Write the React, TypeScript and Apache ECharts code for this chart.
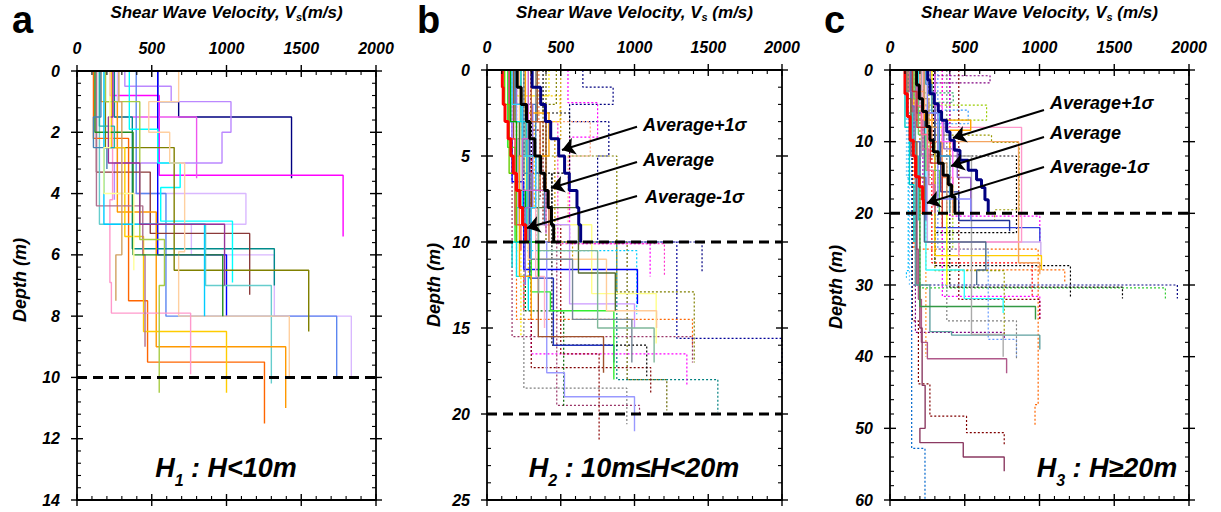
import React, { useEffect, useRef } from "react";
import * as echarts from "echarts";

// ---------------- data ----------------
const velocityMax = 2000;
const velocityStep = 500;
const depthMax = [14, 25, 60];
const depthStep = [2, 5, 10];
const minorSplit = 5;
const boundaryA = [10];
const boundaryB = [10, 20];
const boundaryC = [20];

// Panel a : H < 10 m  (layer velocities m/s, layer bottom depths m)
const panelAVs = [
  [540, 680, 1435], [220, 550, 1780], [250, 800], [320, 630, 1030, 970, 250],
  [270, 1130, 765, 1320, 1835], [396, 595, 1737], [540, 1000], [250, 370, 1320],
  [130, 490, 1155], [350, 540, 690, 560, 1040], [190, 650, 1550], [150, 860, 1300],
  [110, 345, 472, 1254], [160, 270, 530, 1396], [230, 320, 445, 1000],
  [680, 480, 620, 720, 680, 1420], [238, 220, 230, 760], [130, 440, 455],
  [120, 375, 975], [190, 420, 585, 550], [180, 853], [150, 250, 180],
  [240, 210, 420, 987], [160, 110, 200], [220, 180, 380], [280, 300, 260],
];
const panelADepths = [
  [1.0, 1.5, 3.5], [0.8, 3.4, 5.4], [1.5, 3.5], [0.5, 1.0, 2.0, 3.0, 4.2],
  [4.0, 5.0, 6.0, 8.0, 10.0], [4.0, 8.0, 10.0], [6.0, 8.0], [1.5, 5.8, 7.0],
  [3.3, 5.3, 7.3], [1.9, 3.0, 3.8, 4.9, 6.9], [2.5, 6.5, 8.5], [5.0, 7.0, 10.2],
  [2.2, 7.5, 9.5, 11.5], [1.0, 4.6, 9.0, 11.0], [2.5, 5.4, 8.5, 10.5],
  [1.0, 2.0, 3.0, 5.9, 8.0, 10.0], [4.2, 6.9, 7.9, 9.9], [4.4, 6.0, 9.0],
  [2.0, 6.0, 8.0], [1.0, 5.5, 7.0, 10.5], [5.0, 8.0], [1.8, 2.5, 4.0],
  [1.5, 3.0, 5.0, 7.0], [1.5, 2.5, 3.2], [2.5, 4.0, 6.5], [1.0, 6.0, 7.5],
];

// Panel b : 10 m <= H < 20 m
const panelBSolidVs = [
  [150, 170, 250, 1020], [230, 290, 450, 860], [200, 260, 405, 525, 1000],
  [180, 280, 348, 790], [140, 190, 300, 430, 860], [230, 260, 710, 1147],
  [170, 210, 560, 1000], [220, 280, 810, 1150], [190, 220, 620, 870],
  [250, 300, 580, 982], [260, 350, 750, 1133], [160, 240, 200, 280],
  [280, 330, 390], [330, 280, 350], [160, 200, 260, 350], [340, 400, 300],
  [190, 330, 390], [260, 420, 220, 300], [230, 270, 170], [200, 310, 260],
  [150, 190, 230], [120, 150, 200], [300, 360, 420], [170, 240, 330, 300],
  [280, 240, 400],
];
const panelBSolidDepths = [
  [3.0, 6.5, 11.6, 13.6], [4.0, 12.1, 16.0, 17.0], [5.0, 10.0, 17.6, 19.0, 21.0],
  [4.0, 8.0, 15.5, 17.6], [4.5, 10.0, 12.9, 14.0, 18.0], [5.0, 9.0, 13.0, 15.9],
  [4.0, 9.0, 13.6, 15.0], [5.0, 11.0, 14.0, 15.0], [3.0, 8.0, 11.8, 14.0],
  [6.0, 11.0, 14.5, 17.0], [5.0, 10.5, 15.0, 17.0], [3.0, 8.0, 12.0, 14.0],
  [4.0, 12.0, 15.0], [3.0, 10.0, 13.0], [3.0, 7.0, 10.0, 12.0], [3.0, 7.0, 11.0],
  [2.0, 6.0, 9.0], [2.5, 5.0, 12.0, 14.5], [3.0, 10.0, 11.5], [2.0, 8.0, 12.5],
  [4.0, 9.0, 10.5], [2.0, 6.0, 10.0], [3.0, 7.0, 10.0], [2.0, 5.0, 8.0, 11.0],
  [4.0, 7.0, 9.5],
];
const panelBDottedVs = [
  [650, 855, 560, 826, 750, 1458], [549, 750, 560, 1106], [300, 480, 1203],
  [200, 495, 320, 280], [250, 200, 1393], [470, 380, 880, 1405], [400, 950, 1219],
  [330, 880, 1565], [170, 1393], [300, 1355], [250, 1015], [300, 1110],
  [300, 440, 1083], [250, 948], [260, 473, 1034], [200, 300, 250],
  [350, 380, 500, 760], [260, 520], [420, 200, 230], [350, 700, 550],
  [250, 1287, 2000], [500, 460, 580], [380, 560, 440], [230, 360, 300],
];
const panelBDottedDepths = [
  [1.0, 2.0, 3.0, 5.0, 10.0, 11.8], [1.9, 3.9, 10.1, 12.0], [3.0, 10.1, 12.0],
  [1.5, 3.0, 8.0, 12.0], [7.0, 14.5, 16.0], [2.0, 5.0, 12.9, 17.0], [10.0, 18.0, 19.8],
  [10.0, 18.0, 19.9], [15.5, 17.0], [16.5, 18.4], [10.5, 14.2], [17.3, 18.8],
  [6.0, 16.0, 17.8], [18.5, 20.6], [10.0, 19.5, 20.0], [5.0, 12.0, 14.0],
  [3.0, 9.0, 16.5, 21.5], [14.0, 19.6], [1.5, 10.5, 15.5], [3.0, 5.0, 9.0],
  [10.0, 15.6, 17.75], [4.0, 10.0, 11.0], [2.5, 6.0, 9.0], [3.5, 7.5, 13.0],
];
const bAvgPlusVs = [306, 364, 396, 432, 486, 526, 558, 610, 622, 635];
const bAvgVs = [205, 232, 268, 290, 324, 364, 391, 414, 437, 452];
const bAvgMinusVs = [104, 110, 122, 143, 162, 178, 200, 223, 241, 263];
const bAvgDepths = [1, 2, 3, 4, 5, 6, 7, 8, 9, 10];

// Panel c : H >= 20 m
const panelCSolidVs = [
  [150, 175, 190, 210, 250, 780], [140, 180, 200, 215, 235, 200, 490, 764],
  [170, 267, 412, 1002], [140, 200, 973], [190, 240, 497, 757], [210, 545, 757],
  [180, 300, 1002], [200, 250, 1009], [160, 300, 1013], [250, 860, 1002],
  [220, 880, 460], [230, 641, 580], [280, 350, 380], [230, 540, 400],
  [300, 340, 460, 800], [130, 170, 220, 260, 300], [160, 190, 240, 330],
  [200, 230, 280, 350, 420], [140, 160, 200, 240], [230, 260, 320, 380],
  [110, 150, 190], [270, 300, 360, 450, 540], [180, 210, 250, 290],
  [120, 140, 180, 230], [240, 280, 330, 400], [150, 180, 270, 350],
  [300, 350, 420], [100, 130, 160], [250, 320, 540],
];
const panelCSolidDepths = [
  [10, 25, 32, 38, 40.3, 42.3], [12, 30, 36, 44, 50, 52, 54, 56],
  [30, 36.5, 37.0, 39.0], [10, 33, 34.8], [8, 27.9, 31.9, 33.9], [12, 36.9, 40],
  [6, 22, 23.9], [5, 24, 26], [7, 25.9, 27.9], [10, 26.9, 28.5],
  [8, 24, 26], [24, 27.9, 30], [8, 20, 30], [7, 8.4, 20],
  [10, 17, 21, 22.5], [3, 7, 11, 16, 20], [4, 9, 14, 20],
  [3, 6, 10, 15, 20], [5, 10, 15, 21], [4, 8, 13, 20],
  [6, 12, 21], [3, 7, 11, 15, 20], [5, 9, 14, 19],
  [4, 10, 15, 20], [2, 6, 12, 20], [3, 8, 13, 22],
  [5, 10, 16], [8, 16, 24], [6, 18, 21],
];
const panelCDottedVs = [
  [150, 1922], [200, 1842], [300, 1207], [400, 1555], [350, 1169], [280, 951],
  [350, 1002], [400, 1002], [150, 190, 267, 512, 764], [160, 991, 970], [145, 234],
  [250, 669, 230, 170, 764], [200, 646, 260, 420], [180, 523, 300],
  [260, 679, 864, 700], [290, 846, 300], [320, 657, 846], [300, 764],
  [190, 423, 300], [380, 846], [122, 110], [460, 1002], [200, 240], [110, 130],
  [160, 220],
];
const panelCDottedDepths = [
  [30.0, 31.9], [30.4, 31.9], [27.3, 31.9], [30.3, 31.9], [27.9, 29.7], [26.9, 31.6],
  [31.6, 34.8], [20.4, 24.0], [35, 43.8, 48.3, 50.6, 52.5], [25, 46.7, 49.5], [52.8, 60],
  [0.8, 1.8, 2.8, 36.6, 37.5], [4.9, 7.0, 15, 25], [5.6, 7.5, 22],
  [9.1, 10.1, 19.5, 21], [12.0, 22.7, 27.3], [25, 37.6, 40], [28, 36.9],
  [3.2, 4.5, 20], [35, 40.3], [28, 29], [32, 34.8], [20, 40], [15, 30],
  [8, 18],
];
const cAvgPlusVs = [252, 267, 296, 323, 345, 379, 401, 430, 468, 523, 579, 612, 635, 657];
const cAvgPlusDepths = [1.4, 3.3, 4.7, 5.8, 7.0, 8.6, 9.8, 11.2, 12.6, 14.0, 15.3, 16.4, 18.1, 20.0];
const cAvgVs = [178, 196, 218, 245, 267, 290, 323, 356, 390, 412, 434];
const cAvgDepths = [2.1, 4.0, 5.8, 7.9, 9.8, 11.4, 13.0, 14.7, 16.0, 17.7, 20.0];
const cAvgMinusVs = [100, 116, 134, 156, 171, 196, 218, 223];
const cAvgMinusDepths = [3.3, 6.5, 9.8, 12.0, 14.9, 16.3, 18.1, 20.0];

// annotation arrows (velocity, depth)
const bArrowFrom = [[1017, 3.3], [1017, 5.35], [1017, 7.33]];
const bArrowTo = [[508, 4.65], [434, 6.86], [271, 9.19]];
const cArrowFrom = [[1030, 5.58], [1030, 9.35], [1030, 13.53]];
const cArrowTo = [[421, 9.49], [408, 13.4], [247, 18.56]];
const annotationLabels = ["Average+1\u03c3", "Average", "Average-1\u03c3"];

// ---------------- styles ----------------
const panelAColors = [
  "#000080", "#FF00FF", "#EE55EE", "#BB88FF", "#D9B8FF", "#5B86F0", "#0000FF", "#008B8B",
  "#8B3A3A", "#00FFFF", "#808000", "#66CDCD", "#FF6600", "#FF9900", "#FFCC00", "#FFD0A0",
  "#FF99CC", "#B0708F", "#228B22", "#A8CC44", "#00CCFF", "#20B2AA", "#993399", "#4682B4",
  "#FFFF99", "#D2A060",
];
const panelBSolidColors = [
  "#0000FF", "#2233BB", "#9999FF", "#A0522D", "#33EE33", "#FFFF88", "#CC99FF", "#FFCC99",
  "#556B2F", "#778899", "#7FB89A", "#00E5EE", "#FFB0C8", "#999999", "#00AA00", "#8B4513",
  "#4682B4", "#FFA500", "#00CED1", "#9370DB", "#FF4444", "#66CC00", "#CC6633", "#33CCFF",
  "#CC66CC",
];
const panelBDottedColors = [
  "#000080", "#FF00FF", "#FF33CC", "#FFCC00", "#FF6600", "#808000", "#666600", "#008080",
  "#993366", "#FF00FF", "#00CCFF", "#800000", "#000000", "#808080", "#993366", "#FF0000",
  "#8B0000", "#006400", "#FFEE00", "#FFA07A", "#000099", "#CC9900", "#000000", "#800000",
];
const panelCSolidColors = [
  "#B0588A", "#8B3A62", "#5FA0A0", "#339944", "#33FFFF", "#AAAAAA", "#3344DD", "#CCAAEE",
  "#FFCC00", "#F4A460", "#FF99CC", "#4A6D8C", "#FFFF00", "#FFA500", "#223399", "#CC6699",
  "#66CC66", "#FF9966", "#6666CC", "#CC9966", "#33CCCC", "#9966CC", "#FF6699", "#996633",
  "#3399CC", "#CC3333", "#FF66FF", "#00CCCC", "#8888FF",
];
const panelCDottedColors = [
  "#000080", "#33CC33", "#000000", "#000000", "#FF6600", "#FF0000", "#FF00FF", "#FF00FF",
  "#800000", "#FF6600", "#0066CC", "#800080", "#99CC00", "#3399FF", "#999900", "#000000",
  "#6699FF", "#999900", "#33AA66", "#808080", "#00BFFF", "#800000", "#FF9933", "#87CEFA",
  "#CC00CC",
];

const FONT = '"Liberation Sans", Arial, sans-serif';

function stepPoints(vs: number[], ds: number[]) {
  const pts: number[][] = [];
  let top = 0;
  vs.forEach((v, i) => {
    pts.push([v, top]);
    pts.push([v, ds[i]]);
    top = ds[i];
  });
  return pts;
}

function profileSeries(vsList: number[][], dsList: number[][], colors: string[], p: number, dash: any, width: number, z: number) {
  return vsList.map((vs, i) => ({
    type: "line",
    xAxisIndex: p,
    yAxisIndex: p,
    data: stepPoints(vs, dsList[i]),
    symbol: "none",
    silent: true,
    z,
    lineStyle: { color: colors[i % colors.length], width, type: dash, cap: "butt" },
  }));
}

function boundarySeries(depths: number[], p: number) {
  return depths.map((d) => ({
    type: "line",
    xAxisIndex: p,
    yAxisIndex: p,
    data: [[0, d], [velocityMax, d]],
    symbol: "none",
    silent: true,
    z: 6,
    lineStyle: { color: "#000", width: 3, type: [10, 6] },
  }));
}

function arrowSeries(from: number[][], to: number[][], p: number) {
  return {
    type: "lines",
    coordinateSystem: "cartesian2d",
    xAxisIndex: p,
    yAxisIndex: p,
    symbol: ["none", "arrow"],
    symbolSize: [8, 13],
    silent: true,
    z: 8,
    lineStyle: { color: "#000", width: 2, opacity: 1 },
    data: from.map((f, i) => ({ coords: [f, to[i]] })),
  };
}

const gridRects = [
  { left: 77, top: 71, width: 299, height: 429 },
  { left: 487, top: 70, width: 295, height: 430 },
  { left: 890, top: 70, width: 299, height: 430 },
];

function labelStyle(margin: number) {
  return {
    fontFamily: FONT,
    fontSize: 16,
    fontWeight: "bold",
    fontStyle: "italic",
    color: "#000",
    margin,
    formatter: (v: number) => String(v),
  };
}

function buildAxes() {
  const grids: any[] = [];
  const xAxes: any[] = [];
  const yAxes: any[] = [];
  gridRects.forEach((r, p) => {
    grids.push({ ...r });
    xAxes.push({
      type: "value", gridIndex: p, position: "top", min: 0, max: velocityMax, interval: velocityStep,
      splitLine: { show: false }, axisLine: { show: false, onZero: false }, axisTick: { show: false },
      axisLabel: labelStyle(15),
    });
    yAxes.push({
      type: "value", gridIndex: p, position: "left", min: 0, max: depthMax[p], interval: depthStep[p], inverse: true,
      splitLine: { show: false }, axisLine: { show: false, onZero: false }, axisTick: { show: false },
      axisLabel: labelStyle(17),
    });
  });
  return { grids, xAxes, yAxes };
}

function textStyle(size: number, italic = true) {
  return { fontFamily: FONT, fontSize: size, fontWeight: "bold", fontStyle: italic ? "italic" : "normal", fill: "#000" };
}

function frameGraphics(chart: any) {
  const g: any[] = [];
  const tickLine = (x1: number, y1: number, x2: number, y2: number, w: number) => ({
    type: "line", z: 100, silent: true,
    shape: { x1, y1, x2, y2 },
    style: { stroke: "#000", lineWidth: w },
  });
  gridRects.forEach((r, p) => {
    const L = r.left, T = r.top, R = r.left + r.width, B = r.top + r.height;
    g.push({ type: "rect", z: 100, silent: true, shape: { x: L, y: T, width: r.width, height: r.height }, style: { fill: "none", stroke: "#000", lineWidth: 1.8 } });
    const xMinor = velocityStep / minorSplit;
    for (let v = 0; v <= velocityMax + 1e-6; v += xMinor) {
      const x = chart.convertToPixel({ xAxisIndex: p }, v);
      const major = Math.abs(v / velocityStep - Math.round(v / velocityStep)) < 1e-6;
      if (major) {
        g.push(tickLine(x, T - 6, x, T + 6, 1.4));
        g.push(tickLine(x, B - 6, x, B + 6, 1.4));
      } else {
        g.push(tickLine(x, T, x, T + 4, 1.1));
        g.push(tickLine(x, B - 4, x, B, 1.1));
      }
    }
    const yMinor = depthStep[p] / minorSplit;
    for (let d = 0; d <= depthMax[p] + 1e-6; d += yMinor) {
      const y = chart.convertToPixel({ yAxisIndex: p }, d);
      const major = Math.abs(d / depthStep[p] - Math.round(d / depthStep[p])) < 1e-6;
      if (major) {
        g.push(tickLine(L - 6, y, L + 6, y, 1.4));
        g.push(tickLine(R - 6, y, R + 6, y, 1.4));
      } else {
        g.push(tickLine(L, y, L + 4, y, 1.1));
        g.push(tickLine(R - 4, y, R, y, 1.1));
      }
    }
  });
  return g;
}

function textGraphics() {
  const g: any[] = [];
  const letters = [["a", 12], ["b", 417], ["c", 824]];
  letters.forEach(([t, x]) => {
    g.push({ type: "text", x, y: 20, z: 100, style: { text: t, ...textStyle(38, false), verticalAlign: "middle" } });
  });
  const titles = [
    ["Shear Wave Velocity, V", "(m/s)", 226.5],
    ["Shear Wave Velocity, V", " (m/s)", 634.5],
    ["Shear Wave Velocity, V", " (m/s)", 1039.5],
  ];
  titles.forEach(([a, b, x]) => {
    g.push({
      type: "text", x, y: 12, z: 100,
      style: {
        text: `{t|${a}}{s|s}{t|${b}}`, align: "center", verticalAlign: "middle",
        rich: {
          t: { ...textStyle(17), lineHeight: 20, verticalAlign: "middle" },
          s: { ...textStyle(11), lineHeight: 20, verticalAlign: "bottom" },
        },
      },
    });
  });
  const depthLabels = [[20, 280], [434, 285], [836, 287]];
  depthLabels.forEach(([x, y]) => {
    g.push({ type: "text", x, y, z: 100, rotation: Math.PI / 2, style: { text: "Depth (m)", ...textStyle(18), align: "center", verticalAlign: "middle" } });
  });
  const hLabels = [
    ["1", " : H<10m", 226],
    ["2", " : 10m\u2264H<20m", 634],
    ["3", " : H\u226520m", 1107],
  ];
  hLabels.forEach(([sub, rest, x]) => {
    g.push({
      type: "text", x, y: 468, z: 100,
      style: {
        text: `{h|H}{s|${sub}}{h|${rest}}`, align: "center", verticalAlign: "middle",
        rich: {
          h: { ...textStyle(27), lineHeight: 40, verticalAlign: "middle" },
          s: { ...textStyle(16), lineHeight: 40, verticalAlign: "bottom" },
        },
      },
    });
  });
  const annB = [[643, 125], [643, 160], [645, 197]];
  const annC = [[1050, 103], [1050, 133], [1050, 167]];
  [annB, annC].forEach((list) =>
    list.forEach(([x, y], i) => {
      g.push({ type: "text", x, y, z: 100, style: { text: annotationLabels[i], ...textStyle(18), verticalAlign: "middle" } });
    })
  );
  return g;
}

export default function App() {
  const ref = useRef<HTMLDivElement>(null);
  useEffect(() => {
    if (!ref.current) return;
    const chart = echarts.init(ref.current, undefined, { renderer: "svg" });
    const { grids, xAxes, yAxes } = buildAxes();
    const series: any[] = [
      ...profileSeries(panelAVs, panelADepths, panelAColors, 0, "solid", 1.4, 2),
      ...boundarySeries(boundaryA, 0),
      ...profileSeries(panelBDottedVs, panelBDottedDepths, panelBDottedColors, 1, [2, 2], 1.2, 2),
      ...profileSeries(panelBSolidVs, panelBSolidDepths, panelBSolidColors, 1, "solid", 1.4, 3),
      ...profileSeries([bAvgMinusVs, bAvgVs, bAvgPlusVs], [bAvgDepths, bAvgDepths, bAvgDepths], ["#FF0000", "#000000", "#000080"], 1, "solid", 3, 5),
      ...boundarySeries(boundaryB, 1),
      arrowSeries(bArrowFrom, bArrowTo, 1),
      ...profileSeries(panelCDottedVs, panelCDottedDepths, panelCDottedColors, 2, [2, 2], 1.2, 2),
      ...profileSeries(panelCSolidVs, panelCSolidDepths, panelCSolidColors, 2, "solid", 1.4, 3),
      ...profileSeries([cAvgMinusVs, cAvgVs, cAvgPlusVs], [cAvgMinusDepths, cAvgDepths, cAvgPlusDepths], ["#FF0000", "#000000", "#000080"], 2, "solid", 3, 5),
      ...boundarySeries(boundaryC, 2),
      arrowSeries(cArrowFrom, cArrowTo, 2),
    ];
    chart.setOption({
      animation: false,
      backgroundColor: "#ffffff",
      grid: grids,
      xAxis: xAxes,
      yAxis: yAxes,
      series,
    });
    chart.setOption({ graphic: [...frameGraphics(chart), ...textGraphics()] });
    return () => chart.dispose();
  }, []);
  return (
    <div
      ref={ref}
      style={{ position: "fixed", left: 0, top: 0, width: 1221, height: 512, background: "#fff" }}
    />
  );
}
